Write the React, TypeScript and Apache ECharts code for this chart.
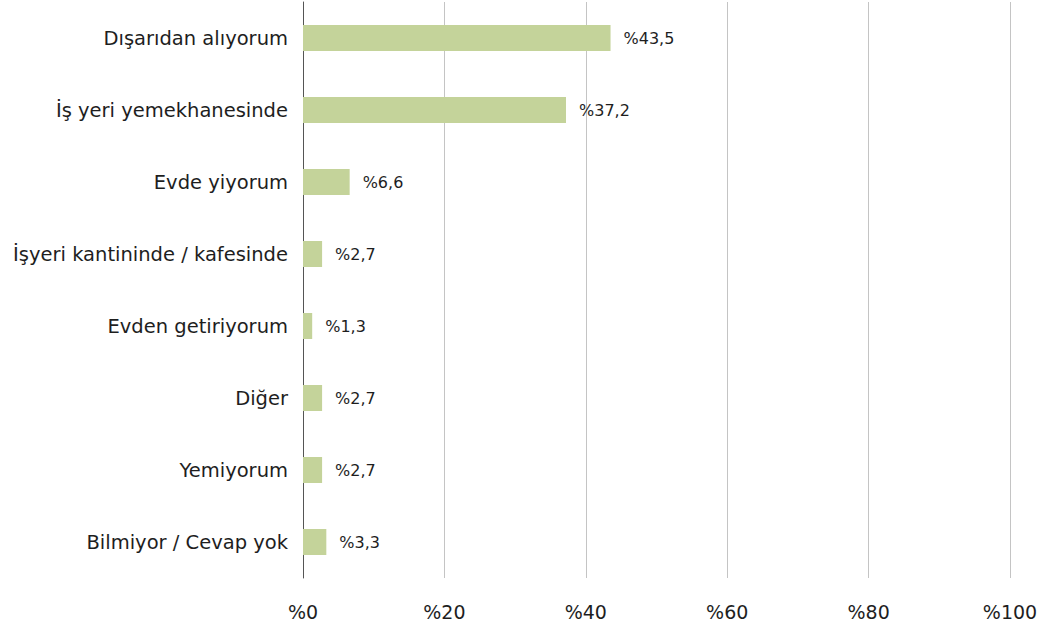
import React, { useEffect, useRef } from "react";
import * as echarts from "echarts";

const categories = [
  "Dışarıdan alıyorum",
  "İş yeri yemekhanesinde",
  "Evde yiyorum",
  "İşyeri kantininde / kafesinde",
  "Evden getiriyorum",
  "Diğer",
  "Yemiyorum",
  "Bilmiyor / Cevap yok",
];
const values = [43.5, 37.2, 6.6, 2.7, 1.3, 2.7, 2.7, 3.3];
const axisTicks = [0, 20, 40, 60, 80, 100];

const FONT = "'DejaVu Sans', sans-serif";
const fmt = (v: number) => "%" + String(v).replace(".", ",");

export default function App() {
  const ref = useRef<HTMLDivElement>(null);
  useEffect(() => {
    if (!ref.current) return;
    const chart = echarts.init(ref.current, undefined, { renderer: "svg" });
    chart.setOption({
      animation: false,
      grid: { left: 303, right: 33, top: 2, bottom: 52, containLabel: false },
      xAxis: {
        type: "value",
        min: axisTicks[0],
        max: axisTicks[axisTicks.length - 1],
        interval: 20,
        axisLine: { show: false },
        axisTick: { show: false },
        axisLabel: {
          margin: 24,
          color: "#1e1e1e",
          fontSize: 19,
          fontFamily: FONT,
          formatter: (v: number) => "%" + v,
        },
        splitLine: { show: true, lineStyle: { color: "#c4c4c4", width: 1 } },
      },
      yAxis: {
        type: "category",
        inverse: true,
        data: categories,
        axisLine: { show: true, lineStyle: { color: "#555", width: 1 } },
        axisTick: { show: false },
        axisLabel: {
          margin: 15,
          color: "#1e1e1e",
          fontSize: 19.5,
          fontFamily: FONT,
        },
      },
      series: [
        {
          type: "bar",
          data: values,
          barWidth: 26,
          itemStyle: { color: "#c4d39a" },
          label: {
            show: true,
            position: "right",
            distance: 13,
            color: "#1e1e1e",
            fontSize: 16,
            fontFamily: FONT,
            formatter: (p: any) => fmt(p.value),
          },
        },
      ],
    });
    return () => chart.dispose();
  }, []);
  return <div ref={ref} style={{ width: 1043, height: 630, position: "absolute", left: 0, top: 0 }} />;
}
